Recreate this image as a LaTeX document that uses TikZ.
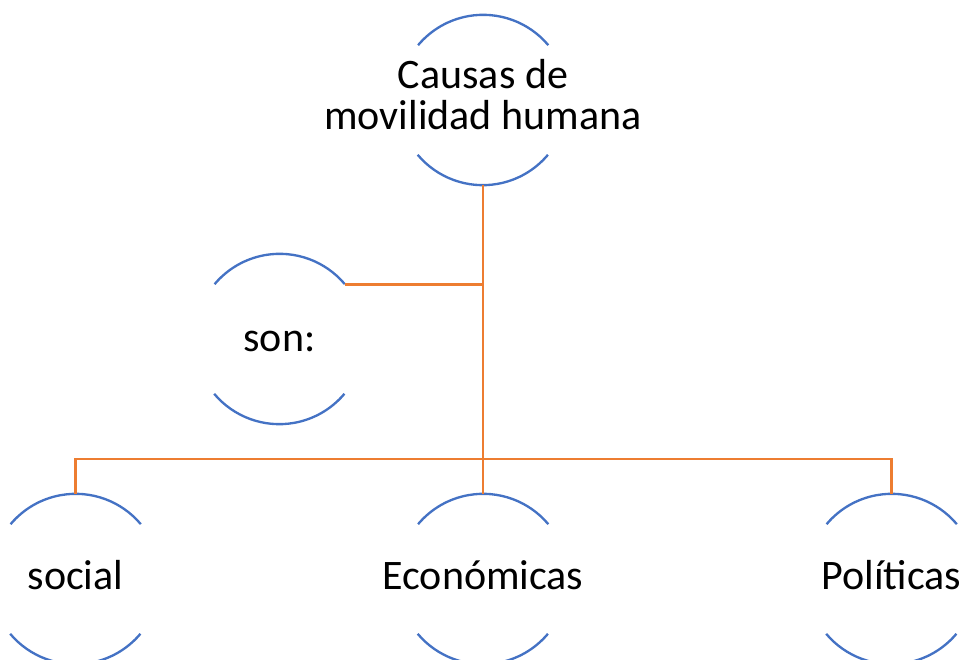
\documentclass[tikz,border=0pt]{standalone}
\usepackage{fontspec}
\setmainfont{Carlito}
\definecolor{arcblue}{HTML}{4472C4}
\definecolor{connorange}{HTML}{ED7D31}
\begin{document}
\begin{tikzpicture}[x=0.75pt,y=0.75pt,
  shp/.style={circle, minimum size=127.5pt, inner sep=0pt, draw=none},
  arcln/.style={draw=arcblue, line width=1.75pt},
  conn/.style={draw=connorange, line width=2pt},
  lbl/.style={font=\fontsize{31.5}{31}\selectfont, anchor=base, inner sep=0pt, text=black}]
\useasboundingbox (0,0) rectangle (964,660);
\clip (0,0) rectangle (964,660);
% shapes
\node[shp] (top) at (483,560) {};
\node[shp] (son) at (279.5,321) {};
\node[shp] (soc) at (75.5,81) {};
\node[shp] (eco) at (483,81) {};
\node[shp] (pol) at (891.5,81) {};
\foreach \n in {top,son,soc,eco,pol} {
  \draw[arcln] (\n.40) arc[start angle=40, end angle=140, radius=63.75pt];
  \draw[arcln] (\n.220) arc[start angle=220, end angle=320, radius=63.75pt];
}
% texts
\node[lbl] (t1) at (483,571) {Causas de};
\node[lbl] (t2) at (483,530) {movilidad humana};
\node[lbl] (t3) at (279.5,308) {son:};
\node[lbl] (t4) at (75.5,70) {social};
\node[lbl] (t5) at (483,70) {Económicas};
\node[lbl] (t6) at (891.5,70) {Políticas};
% connectors
\coordinate (bus) at (483,201);
\draw[conn] (son.40) -- (top.south |- son.40);
\draw[conn] (top.south) -- (eco.north);
\draw[conn] (soc.north) |- (bus) -| (pol.north);
\end{tikzpicture}
\end{document}
